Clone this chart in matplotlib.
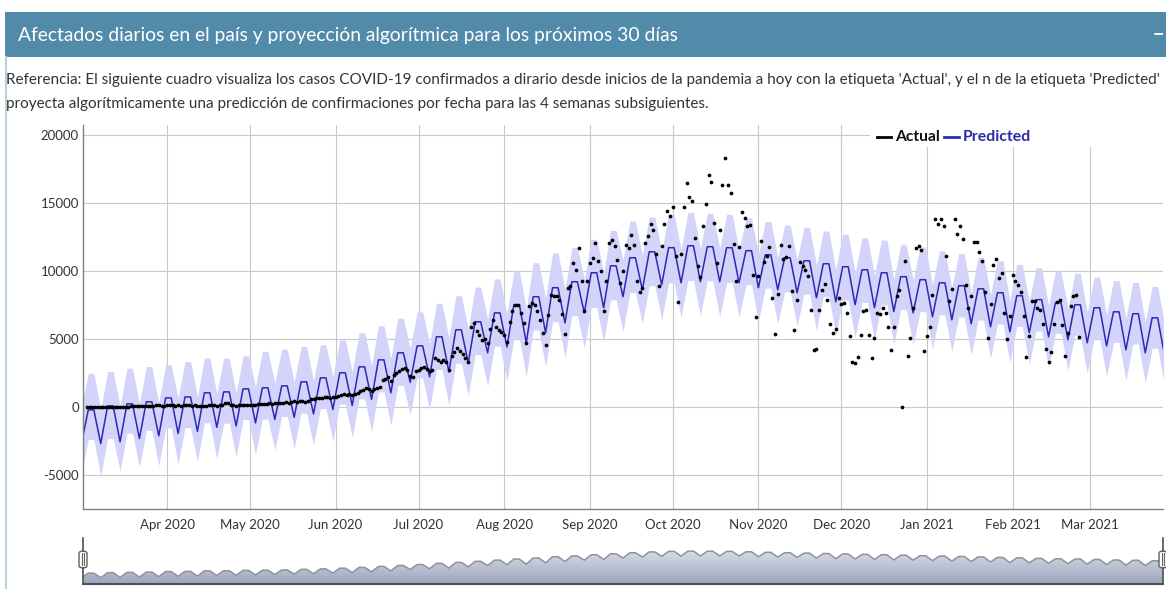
import numpy as np
import pandas as pd
import matplotlib
matplotlib.use('Agg')
import matplotlib.pyplot as plt
import matplotlib.dates as mdates
from matplotlib.colors import LinearSegmentedColormap
from matplotlib.patches import Rectangle, FancyBboxPatch
from matplotlib.lines import Line2D

plt.rcParams['font.family'] = ['Lato', 'DejaVu Sans']

# --- Texts
title = 'Afectados diarios en el país y proyección algorítmica para los próximos 30 días'
desc1 = ("Referencia: El siguiente cuadro visualiza los casos COVID-19 confirmados a dirario desde inicios "
         "de la pandemia a hoy con la etiqueta 'Actual', y el n de la etiqueta 'Predicted'")
desc2 = 'proyecta algorítmicamente una predicción de confirmaciones por fecha para las 4 semanas subsiguientes.'

# --- Actual daily cases, starting 2020-03-03
actual_start = '2020-03-03'
actual_mar = [1, 0, 1, 6, 2, 4, 3, 5, 2, 12, 3, 2, 11, 9, 11, 21, 31, 31, 30, 67, 87, 41, 36, 65, 86, 115,
              101, 87, 55]
actual_apr = [146, 167, 104, 88, 132, 75, 134, 107, 103, 81, 167, 96, 91, 96, 87, 113, 124, 142, 89, 134, 112,
              300, 280, 111, 129, 100, 114, 141, 124, 143]
actual_may = [150, 170, 160, 190, 180, 200, 190, 250, 230, 260, 250, 280, 300, 330, 320, 380, 400, 370, 400,
              420, 390, 450, 550, 600, 650, 620, 650, 700, 720, 680, 760]
actual_jun = [760, 800, 900, 930, 850, 980, 880, 950, 1050, 1150, 1250, 1370, 1300, 1200, 1300, 1400, 1450,
              1985, 2060, 2230, 1900, 2350, 2500, 2640, 2750, 2840, 2700, 2300, 2230, 2600]
actual_jul = [2720, 2840, 2900, 2800, 2600, 2700, 3580, 3450, 3330, 3450, 3300, 2720, 3700, 4000, 4310, 4070,
              3900, 3600, 3330, 5900, 6150, 5540, 5300, 4920, 5000, 4680, 5700, 6390, 5900, 5660, 5500]
actual_aug = [5290, 4800, 6200, 7010, 7500, 7500, 6900, 6150, 4680, 7380, 7620, 7500, 7010, 6390, 5460, 4560,
              6760, 8230, 8110, 8110, 7860, 6800, 5370, 8720, 8840, 10560, 10070, 11660, 9210, 7010, 9210]
actual_sep = [10560, 10930, 12030, 10680, 9950, 7010, 9210, 12030, 12270, 11780, 10800, 9090, 9950, 11900,
              11660, 12640, 11900, 9210, 8400, 8720, 12030, 12570, 13450, 12960, 11250, 8840, 11780, 13450,
              14360, 13990]
actual_oct = [14680, 11100, 7670, 11250, 14680, 16440, 15410, 15090, 12400, 10310, 9530, 13250, 14920, 17050,
              16490, 13500, 10560, 12960, 16320, 18280, 16320, 15700, 11950, 9210, 11710, 14280, 13870, 13250,
              13380, 9700, 6590]
actual_nov = [9580, 12150, 10610, 11100, 11710, 7990, 5340, 8310, 11900, 10850, 11030, 11830, 8480, 5610, 7860,
              10610, 10310, 10070, 9580, 7130, 4190, 4220, 7130, 8550, 9010, 7860, 6100, 5410, 5730, 7990]
actual_dec = [7550, 7600, 6930, 5220, 3260, 3230, 3650, 5250, 7060, 7130, 5250, 3600, 5050, 6930, 6810, 7250,
              6930, 5850, 4140, 5850, 8160, 8550, 20, 10680, 3700, 5050, 7250, 11660, 11780, 11540, 4120]
actual_jan = [5240, 5880, 8250, 13790, 13420, 13790, 13300, 11050, 7790, 8670, 13790, 12720, 13250, 12320, 8920,
              7250, 8160, 12080, 12080, 11370, 10730, 8430, 5050, 7570, 10390, 10850, 9460, 9820, 6930, 4970,
              6640]
actual_feb = [9650, 9210, 8920, 8430, 6690, 3650, 5170, 7790, 7790, 7250, 7130, 6100, 4220, 3260, 4000, 6100,
              7670, 7860, 5980, 3700, 5410, 7430, 8160, 8250, 5100]

# --- Predicted series: weekly trough (Sundays, from 2020-03-01) and mid-week top, plus band offsets
pred_first_trough = '2020-03-01'
pred_trough = [-2700, -2700, -2570, -2320, -2130, -1950, -1800, -1500, -1400, -1180,
               -920, -770, -520, -190, 100, 550, 1030, 1800, 2200, 2570,
               3230, 3970, 4400, 4700, 5440, 6170, 6900, 7280, 8090, 8600,
               8970, 9110, 9190, 9190, 9110, 8750, 8600, 8380, 8010, 7720,
               7500, 7280, 7000, 6910, 6620, 6390, 6100, 5880, 5510, 5440,
               5150, 4930, 4700, 4480, 4190, 3970, 3750]
pred_peak = [-220, 70, 220, 370, 660, 730, 1030, 1100, 1320, 1400,
             1540, 1840, 2130, 2500, 2940, 3450, 3970, 4480, 5150, 5660,
             6250, 6900, 7500, 8090, 8750, 9190, 9850, 10360, 10950, 11390,
             11690, 11830, 11760, 11690, 11470, 11170, 10950, 10730, 10510, 10290,
             10070, 9850, 9560, 9340, 9110, 8900, 8670, 8380, 8160, 7870,
             7650, 7500, 7280, 6980, 6840, 6540]
band_above = [2690, 2530, 2620, 2590, 2430, 2600, 2550, 2480, 2430, 2670, 2700, 2590, 2430, 2420, 2500,
              2500, 2550, 2500, 2450, 2500, 2550, 2500, 2450, 2500, 2550, 2500, 2450, 2600, 2700, 2550, 2450,
              2450, 2450, 2450, 2400, 2450, 2400, 2450, 2400, 2400, 2350, 2400, 2350, 2400, 2350, 2350,
              2300, 2350, 2300, 2350, 2300, 2300, 2250, 2300, 2300, 2300, 2300]
band_below = [2180, 2390, 2150, 2100, 2200, 2250, 2200, 2300, 2250, 2300, 2250, 2300, 2250, 2300, 2350,
              2350, 2400, 2350, 2400, 2450, 2400, 2450, 2500, 2450, 2500, 2500, 2550, 2500, 2550, 2500, 2580,
              2550, 2500, 2550, 2500, 2450, 2500, 2450, 2400, 2450, 2400, 2350, 2400, 2350, 2350, 2300,
              2300, 2300, 2250, 2300, 2250, 2250, 2250, 2250, 2230, 2230, 2230]

y_ticks = [-5000, 0, 5000, 10000, 15000, 20000]

# --- Build series
actual = np.array(actual_mar + actual_apr + actual_may + actual_jun + actual_jul + actual_aug +
                  actual_sep + actual_oct + actual_nov + actual_dec + actual_jan + actual_feb, dtype=float)
actual_dates = pd.date_range(actual_start, periods=len(actual), freq='D')

trough_dates = pd.date_range(pred_first_trough, periods=len(pred_trough), freq='7D')
px_, py_, pu_, pl_ = [], [], [], []
for k, t in enumerate(trough_dates):
    px_.append(t); py_.append(pred_trough[k]); pu_.append(band_above[k]); pl_.append(band_below[k])
    if k < len(pred_peak):
        for off in (2.5, 4.5):
            px_.append(t + pd.Timedelta(days=off)); py_.append(pred_peak[k])
            pu_.append(band_above[k]); pl_.append(band_below[k])
px_ = np.array(px_)
py_ = np.array(py_, dtype=float)
upper = py_ + np.array(pu_)
lower = py_ - np.array(pl_)

# --- Figure (pixel layout)
W, H = 1166, 589
fig = plt.figure(figsize=(W / 100, H / 100), dpi=100)
renderer = fig.canvas.get_renderer()


def fx(x):
    return x / W


def fy(y):
    return 1 - y / H


def fit_text(x, y, s, width, size=12, **kw):
    t = fig.text(fx(x), fy(y), s, fontsize=size, va='center', ha='left', **kw)
    w = t.get_window_extent(renderer=renderer).width
    t.set_fontsize(size * width / w)
    return t


# header bar + panel border
fig.patches.append(Rectangle((fx(5), fy(57)), fx(W - 5), 45 / H, transform=fig.transFigure,
                             facecolor='#528ba9', edgecolor='none', zorder=0))
fig.lines.append(Line2D([fx(5.5), fx(5.5)], [fy(57), fy(H)], transform=fig.transFigure,
                        color='#b9d0dd', lw=1.5))
fit_text(18, 35, title, 659, size=13, color='white')
fig.text(fx(1158), fy(34), '\u2212', color='white', fontsize=14, fontweight='bold', ha='center', va='center')
t1 = fit_text(6, 80, desc1, 1156, size=10, color='#333333')
fig.text(fx(6), fy(104), desc2, fontsize=t1.get_fontsize(), va='center', ha='left', color='#333333')

# --- Main chart
ax = fig.add_axes([fx(83), fy(509), 1080 / W, 384 / H])
ax.fill_between(px_, lower, upper, color='#d4d4fa', lw=0, zorder=1)
ax.plot(px_, py_, color='#2a2ab4', lw=1.1, zorder=2)
ax.plot(actual_dates, actual, 'o', ms=2.7, color='black', mew=0, zorder=3)

x0 = pd.Timestamp('2020-03-01 14:00')
x1 = pd.Timestamp('2021-03-27 10:00')
ax.set_xlim(x0, x1)
ax.set_ylim(-7500, 20700)
ax.set_yticks(y_ticks)
ax.set_yticklabels([str(v) for v in y_ticks])
ax.xaxis.set_major_locator(mdates.MonthLocator())
ax.xaxis.set_major_formatter(mdates.DateFormatter('%b %Y'))
ax.grid(True, color='#c8c8c8', lw=0.8)
ax.set_axisbelow(True)
for s in ('top', 'right'):
    ax.spines[s].set_visible(False)
for s in ('left', 'bottom'):
    ax.spines[s].set_color('#808080')
    ax.spines[s].set_linewidth(1)
ax.tick_params(length=0, labelsize=9.5, labelcolor='#333333')
ax.tick_params(axis='x', pad=7)
ax.tick_params(axis='y', pad=3)

# legend box (covers grid at top right)
fig.patches.append(Rectangle((fx(870), fy(147)), fx(1163 - 870), 22 / H, transform=fig.transFigure,
                             facecolor='white', edgecolor='none', zorder=2))
fig.lines.append(Line2D([fx(877), fx(891)], [fy(137), fy(137)], transform=fig.transFigure,
                        color='black', lw=2, zorder=3))
fit_text(895, 137, 'Actual', 45, size=10, color='#111111', fontweight='bold', zorder=3)
fig.lines.append(Line2D([fx(944), fx(959)], [fy(137), fy(137)], transform=fig.transFigure,
                        color='#2a2ab4', lw=2, zorder=3))
fit_text(963, 137, 'Predicted', 69, size=10, color='#2a2aa8', fontweight='bold', zorder=3)

# --- Range selector
axr = fig.add_axes([fx(83), fy(583), 1080 / W, 45 / H])
axr.set_xlim(x0, x1)
axr.set_ylim(-5600, 19000)
axr.axis('off')
poly = axr.fill_between(px_, py_, -5600, color='none', lw=0)
grad = np.linspace(0, 1, 100).reshape(-1, 1)
cmap = LinearSegmentedColormap.from_list('sel', ['#9fa7be', '#eef0f5'])
im = axr.imshow(grad, extent=[mdates.date2num(x0), mdates.date2num(x1), -5600, 19000],
                aspect='auto', cmap=cmap, origin='lower', zorder=1)
im.set_clip_path(poly.get_paths()[0], transform=axr.transData)
axr.plot(px_, py_, color='#8e929e', lw=1.1, zorder=2)

fig.lines.append(Line2D([fx(83), fx(1163)], [fy(583.5), fy(583.5)], transform=fig.transFigure,
                        color='#505050', lw=1.5))
for hx in (83, 1163):
    fig.lines.append(Line2D([fx(hx), fx(hx)], [fy(538), fy(584)], transform=fig.transFigure,
                            color='#505050', lw=1.2))
    fig.patches.append(FancyBboxPatch((fx(hx - 4), fy(568)), fx(8), 17 / H, transform=fig.transFigure,
                                      boxstyle='round,pad=0,rounding_size=0.004', facecolor='white',
                                      edgecolor='#606060', lw=1, zorder=3))
    for dx in (-1.3, 1.3):
        fig.lines.append(Line2D([fx(hx + dx), fx(hx + dx)], [fy(553), fy(565)], transform=fig.transFigure,
                                color='#606060', lw=0.8, zorder=4))

fig.savefig('out.png', dpi=100)
